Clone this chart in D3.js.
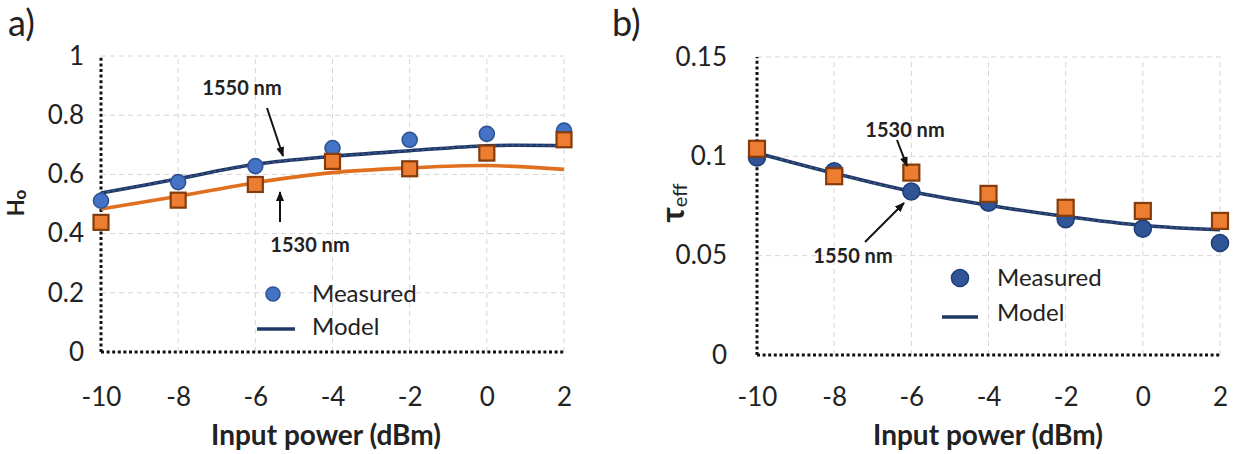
<!DOCTYPE html>
<html><head><meta charset="utf-8">
<script src="https://cdn.jsdelivr.net/npm/d3@7"></script>
<style>
html,body{margin:0;padding:0;background:#fff;}
svg{display:block;}
text{font-family:Lato,"Open Sans",sans-serif;fill:#222;}
</style></head>
<body><svg id="c" width="1236" height="454"></svg>
<script>
// ---- data ----
const powers = [-10, -8, -6, -4, -2, 0, 2];
const xTicks = [-10, -8, -6, -4, -2, 0, 2];
// panel a: H0
const aMeas1550 = [0.511, 0.574, 0.628, 0.689, 0.717, 0.737, 0.748];
const aMeas1530 = [0.438, 0.513, 0.566, 0.644, 0.619, 0.672, 0.717];
const aModel1550 = [0.537, 0.585, 0.634, 0.661, 0.680, 0.697, 0.697];
const aModel1530 = [0.483, 0.526, 0.572, 0.606, 0.622, 0.630, 0.617];
const aYTicks = [0, 0.2, 0.4, 0.6, 0.8, 1];
// panel b: tau_eff
const bMeas1550 = [0.0995, 0.0925, 0.0823, 0.0767, 0.0684, 0.0636, 0.0564];
const bMeas1530 = [0.1038, 0.0900, 0.0918, 0.0811, 0.0741, 0.0725, 0.0675];
const bModel = [0.1017, 0.0915, 0.0823, 0.0754, 0.0697, 0.0652, 0.0631];
const bYTicks = [0, 0.05, 0.1, 0.15];

const svg = d3.select("#c");
const NAVY = "#203864", ORANGE_LINE = "#e0701f", ORANGE = "#ed7d31", ORANGE_EDGE = "#843c0c";
const hyphenFmt = d => String(d);

svg.append("defs").append("marker").attr("id","arr").attr("viewBox","0 0 10 10")
  .attr("refX",9).attr("refY",5).attr("markerWidth",10).attr("markerHeight",10)
  .attr("markerUnits","userSpaceOnUse").attr("orient","auto")
  .append("path").attr("d","M0,1 L10,5 L0,9 Z").attr("fill","#111");

function panel(cfg){
  const g = svg.append("g");
  const x = d3.scaleLinear().domain([-10,2]).range(cfg.xr);
  const y = d3.scaleLinear().domain(cfg.yd).range(cfg.yr);
  // grid
  g.selectAll(".gx").data(xTicks.slice(1)).join("line")
    .attr("x1",d=>x(d)).attr("x2",d=>x(d)).attr("y1",y(cfg.yd[0])).attr("y2",y(cfg.yd[1]))
    .attr("stroke","#d6d6d6").attr("stroke-width",1).attr("stroke-dasharray","5,4");
  g.selectAll(".gy").data(cfg.yTicks.slice(1)).join("line")
    .attr("y1",d=>y(d)).attr("y2",d=>y(d)).attr("x1",x(-10)).attr("x2",x(2))
    .attr("stroke","#d6d6d6").attr("stroke-width",1).attr("stroke-dasharray","5,4");
  // axes (dotted)
  g.append("line").attr("x1",x(-10)).attr("x2",x(-10)).attr("y1",y(cfg.yd[0])).attr("y2",y(cfg.yd[1]))
    .attr("stroke","#111").attr("stroke-width",3).attr("stroke-dasharray","3,2.6");
  g.append("line").attr("x1",x(-10)).attr("x2",x(2)).attr("y1",y(cfg.yd[0])).attr("y2",y(cfg.yd[0]))
    .attr("stroke","#111").attr("stroke-width",3).attr("stroke-dasharray","3,2.6");
  // tick labels
  const xa = d3.axisBottom(x).tickValues(xTicks).tickSize(0).tickPadding(0).tickFormat(hyphenFmt);
  const xg = g.append("g").attr("transform",`translate(0,${cfg.xLabY})`).call(xa);
  xg.select(".domain").remove();
  xg.selectAll("text").attr("font-size",cfg.fs).attr("fill","#2a2a2a").attr("dy","0.35em").attr("font-family","Lato");
  const ya = d3.axisLeft(y).tickValues(cfg.yTicks).tickSize(0).tickPadding(0).tickFormat(hyphenFmt);
  const yg = g.append("g").attr("transform",`translate(${cfg.yLabX},0)`).call(ya);
  yg.select(".domain").remove();
  yg.selectAll("text").attr("font-size",cfg.fs).attr("fill","#2a2a2a").attr("font-family","Lato");
  // axis title
  g.append("text").attr("x",cfg.titleX).attr("y",cfg.xTitleY).attr("text-anchor","middle")
    .attr("font-size",cfg.fsTitle).attr("font-weight","bold").attr("dy","0.35em").text("Input power (dBm)");
  // panel label
  g.append("text").attr("x",cfg.plx).attr("y",36).attr("font-size",36)
    .attr("fill","#111").text(cfg.pl);
  return {g,x,y};
}

function navyLine(g, x, y, vals){
  const line = d3.line().x((d,i)=>x(powers[i])).y(d=>y(d)).curve(d3.curveCatmullRom.alpha(0.5));
  g.append("path").attr("d",line(vals)).attr("fill","none").attr("stroke",NAVY).attr("stroke-width",3.6);
  g.append("path").attr("d",line(vals)).attr("fill","none").attr("stroke","#3d5d99").attr("stroke-width",1.2)
    .attr("stroke-dasharray","3,3");
}
function orangeLine(g,x,y,vals){
  const line = d3.line().x((d,i)=>x(powers[i])).y(d=>y(d)).curve(d3.curveCatmullRom.alpha(0.5));
  g.append("path").attr("d",line(vals)).attr("fill","none").attr("stroke",ORANGE_LINE).attr("stroke-width",3.6);
}
function circles(g,x,y,vals,r,fill,edge){
  g.append("g").selectAll("circle").data(vals).join("circle")
    .attr("cx",(d,i)=>x(powers[i])).attr("cy",d=>y(d)).attr("r",r)
    .attr("fill",fill).attr("stroke",edge).attr("stroke-width",1.6);
}
function squares(g,x,y,vals,s){
  g.append("g").selectAll("rect").data(vals).join("rect")
    .attr("x",(d,i)=>x(powers[i])-s/2).attr("y",d=>y(d)-s/2).attr("width",s).attr("height",s)
    .attr("fill",ORANGE).attr("stroke",ORANGE_EDGE).attr("stroke-width",2.2);
}
function ann(g,txt,tx,ty,x1,y1,x2,y2){
  g.append("text").attr("x",tx).attr("y",ty).attr("text-anchor","middle").attr("font-size",20)
    .attr("font-weight","bold").attr("fill","#111").text(txt);
  g.append("line").attr("x1",x1).attr("y1",y1).attr("x2",x2).attr("y2",y2)
    .attr("stroke","#111").attr("stroke-width",2).attr("marker-end","url(#arr)");
}
function legend(g,cx,cy,r,fill,edge,lx1,lx2,ly,tx,ty1,ty2){
  g.append("circle").attr("cx",cx).attr("cy",cy).attr("r",r).attr("fill",fill).attr("stroke",edge).attr("stroke-width",1.6);
  g.append("text").attr("x",tx).attr("y",ty1).attr("dy","0.35em").attr("font-size",24).attr("fill","#333").text("Measured");
  g.append("line").attr("x1",lx1).attr("x2",lx2).attr("y1",ly).attr("y2",ly).attr("stroke",NAVY).attr("stroke-width",3.6);
  g.append("text").attr("x",tx).attr("y",ty2).attr("dy","0.35em").attr("font-size",24).attr("fill","#333").text("Model");
}

// ---- panel a ----
const A = panel({xr:[101,564], yd:[0,1], yr:[352,56], yTicks:aYTicks, titleX:326,
  xLabY:397, yLabX:84, xTitleY:435, fs:26, fsTitle:28, plx:8, pl:"a)"});
orangeLine(A.g,A.x,A.y,aModel1530);
navyLine(A.g,A.x,A.y,aModel1550);
circles(A.g,A.x,A.y,aMeas1550,7.5,"#4472c4","#2f5597");
squares(A.g,A.x,A.y,aMeas1530,15);
ann(A.g,"1550 nm",242,95,267,108,283,156);
ann(A.g,"1530 nm",310,252,280,222,280,192);
legend(A.g,273,294,7,"#4472c4","#2f5597",257,295,329,312,294,327);
// y title a
const ta = A.g.append("text").attr("transform","translate(24,203) rotate(-90)").attr("text-anchor","middle")
  .attr("font-family","'Liberation Serif','DejaVu Serif',serif").attr("font-weight","bold").attr("font-size",22).attr("fill","#111");
ta.append("tspan").text("H");
ta.append("tspan").attr("font-size",17).attr("dy",2).text("o");

// ---- panel b ----
const B = panel({xr:[757,1220], yd:[0,0.15], yr:[355,57], yTicks:bYTicks, titleX:988,
  xLabY:397, yLabX:727, xTitleY:435, fs:26, fsTitle:28, plx:612, pl:"b)"});
navyLine(B.g,B.x,B.y,bModel);
circles(B.g,B.x,B.y,bMeas1550,8.5,"#2f5597","#1f3f7a");
squares(B.g,B.x,B.y,bMeas1530,16);
ann(B.g,"1530 nm",905,137,897,140,907,166);
ann(B.g,"1550 nm",853,263,865,242,904,203);
legend(B.g,960,278,8.5,"#2f5597","#1f3f7a",942,978,317,997,278,313);
const tb = B.g.append("text").attr("transform","translate(684,203) rotate(-90)").attr("text-anchor","middle")
  .attr("font-family","'Liberation Serif','DejaVu Serif',serif").attr("fill","#111");
tb.append("tspan").attr("font-weight","bold").attr("font-size",32).text("τ");
tb.append("tspan").attr("font-size",20).attr("dy",3).text("eff");
</script></body></html>
